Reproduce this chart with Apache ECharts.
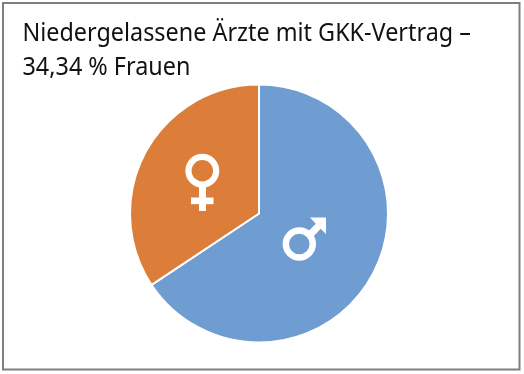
<!DOCTYPE html>
<html><head><meta charset="utf-8">
<style>html,body{margin:0;padding:0;background:#fff}#c{width:524px;height:374px}</style>
<script src="https://cdn.jsdelivr.net/npm/echarts@6/dist/echarts.min.js"></script>
</head><body><div id="c"></div>
<script>
const titleText = 'Niedergelassene Ärzte mit GKK-Vertrag –\n34,34 % Frauen';
const categories = ['Männer', 'Frauen'];
const values = [65.66, 34.34];
const colors = ['#6f9dd2', '#dc7d39'];
const chart = echarts.init(document.getElementById('c'), null, {renderer: 'canvas'});
chart.setOption({
  animation: false,
  backgroundColor: '#fff',
  series: [{
    type: 'pie', center: [259, 213.5], radius: [0, 129], startAngle: 90, clockwise: true,
    label: {show: false}, labelLine: {show: false}, silent: true,
    itemStyle: {borderColor: '#fff', borderWidth: 2},
    data: categories.map((n, i) => ({name: n, value: values[i], itemStyle: {color: colors[i]}}))
  }],
  graphic: [
    {type: 'text', z: 20, x: 22.5, y: 17, originX: 0, originY: 0, scaleX: 0.935, scaleY: 1,
      style: {text: titleText, fontFamily: '"Noto Sans"', fontSize: 25, lineHeight: 34, fill: '#111'}},
    {type: 'rect', z: 0, shape: {x: 3, y: 3, width: 516.5, height: 366.5}, style: {fill: 'none', stroke: '#7f7f7f', lineWidth: 2}},
    {type: 'ring', z: 10, shape: {cx: 202.3, cy: 170.7, r: 17, r0: 10.7}, style: {fill: '#fff'}},
    {type: 'rect', z: 10, shape: {x: 199, y: 186, width: 7, height: 25}, style: {fill: '#fff'}},
    {type: 'rect', z: 10, shape: {x: 191, y: 197.5, width: 22.5, height: 6.7}, style: {fill: '#fff'}},
    {type: 'ring', z: 10, shape: {cx: 299.3, cy: 244, r: 16.7, r0: 10.3}, style: {fill: '#fff'}},
    {type: 'polygon', z: 10, shape: {points: [[306, 233.5], [315.8, 223.8], [310, 217.5], [326, 217.5], [326, 234], [320.7, 228.7], [311.5, 238.5]]}, style: {fill: '#fff'}}
  ]
});
</script></body></html>
